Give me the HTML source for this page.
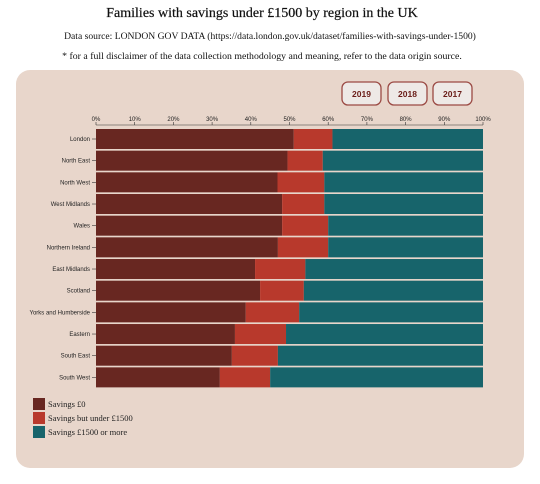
<!DOCTYPE html>
<html><head><meta charset="utf-8"><style>
body{margin:0;background:#fff;width:540px;height:484px;overflow:hidden}
svg{display:block}
.serif{font-family:"Liberation Serif",serif}
.sans{font-family:"Liberation Sans",sans-serif}
</style></head><body>
<svg id="s" width="540" height="484" xmlns="http://www.w3.org/2000/svg">
<text class="serif" x="262" y="17" text-anchor="middle" font-size="14" fill="#111" stroke="#111" stroke-width="0.2">Families with savings under £1500 by region in the UK</text>
<text class="serif" x="270" y="39" text-anchor="middle" font-size="9.6" fill="#111">Data source: LONDON GOV DATA (https://data.london.gov.uk/dataset/families-with-savings-under-1500)</text>
<text class="serif" x="262" y="59" text-anchor="middle" font-size="9.8" fill="#111">* for a full disclaimer of the data collection methodology and meaning, refer to the data origin source.</text>
<rect x="16" y="70" width="508" height="398" rx="14" fill="#e8d6cb"/>
<g class="sans" font-size="8.5" font-weight="bold" fill="#6a1d18">
<g><rect x="342" y="82" width="39" height="23" rx="6" fill="#eee9e6" stroke="#9b4a44" stroke-width="1.3"/><text x="361.5" y="97" text-anchor="middle">2019</text></g>
<g><rect x="388" y="82" width="39" height="23" rx="6" fill="#eee9e6" stroke="#9b4a44" stroke-width="1.3"/><text x="407.5" y="97" text-anchor="middle">2018</text></g>
<g><rect x="433" y="82" width="39" height="23" rx="6" fill="#eee9e6" stroke="#9b4a44" stroke-width="1.3"/><text x="452.5" y="97" text-anchor="middle">2017</text></g>
</g>
<g id="chart"></g>
<g class="serif" font-size="8.5" fill="#222">
<g><rect x="33" y="398" width="12" height="12" fill="#682721"/><text x="48" y="407">Savings £0</text></g>
<g><rect x="33" y="412" width="12" height="12" fill="#b8392c"/><text x="48" y="421">Savings but under £1500</text></g>
<g><rect x="33" y="426" width="12" height="12" fill="#17646b"/><text x="48" y="435">Savings £1500 or more</text></g>
</g>
</svg>
<script>
const regions=["London","North East","North West","West Midlands","Wales","Northern Ireland","East Midlands","Scotland","Yorks and Humberside","Eastern","South East","South West"];
const savingsZero=[51.1,49.5,46.9,48.1,48.1,47.0,41.1,42.4,38.7,35.9,35.1,32.0];
const savingsUnder1500=[10.0,9.1,12.1,10.9,11.9,13.0,13.0,11.3,13.8,13.2,11.9,13.0];
const ticks=[0,10,20,30,40,50,60,70,80,90,100];
const NS="http://www.w3.org/2000/svg";
const g=document.getElementById('chart');
const x0=96,x1=483,y0=129,step=21.67,bh=20;
const x=v=>x0+(x1-x0)*v/100;
const y=i=>y0+i*step;
function mk(t,a){const e=document.createElementNS(NS,t);for(const k in a)e.setAttribute(k,a[k]);g.appendChild(e);return e;}
const ax=mk('line',{x1:x0,x2:x1,y1:125,y2:125,stroke:'#333','stroke-width':0.6});


ticks.forEach(t=>{
 const l=mk('line',{x1:x(t),x2:x(t),y1:122,y2:125,stroke:'#333','stroke-width':0.6});
 
 
 const tx=mk('text',{x:x(t),y:121,'text-anchor':'middle','font-size':6,'font-family':'Liberation Sans, sans-serif',fill:'#222'});
 tx.textContent=t+'%';
 
 
});
regions.forEach((r,i)=>{
 const a=savingsZero[i],b=savingsUnder1500[i];
 const segs=[[0,a,'#682721'],[a,a+b,'#b8392c'],[a+b,100,'#17646b']];
 segs.forEach((s,j)=>{
  const rc=mk('rect',{x:x(s[0]),y:y(i),width:x(s[1])-x(s[0]),height:bh,fill:s[2]});
  
  
 });
 const tl=mk('line',{x1:x0-4,x2:x0,y1:y(i)+bh/2,y2:y(i)+bh/2,stroke:'#333','stroke-width':0.6});
 
 
 const tx=mk('text',{x:x0-6,y:y(i)+bh/2+2,'text-anchor':'end','font-size':6,'font-family':'Liberation Sans, sans-serif',fill:'#222'});
 tx.textContent=r;
 
 
});
</script>
</body></html>
